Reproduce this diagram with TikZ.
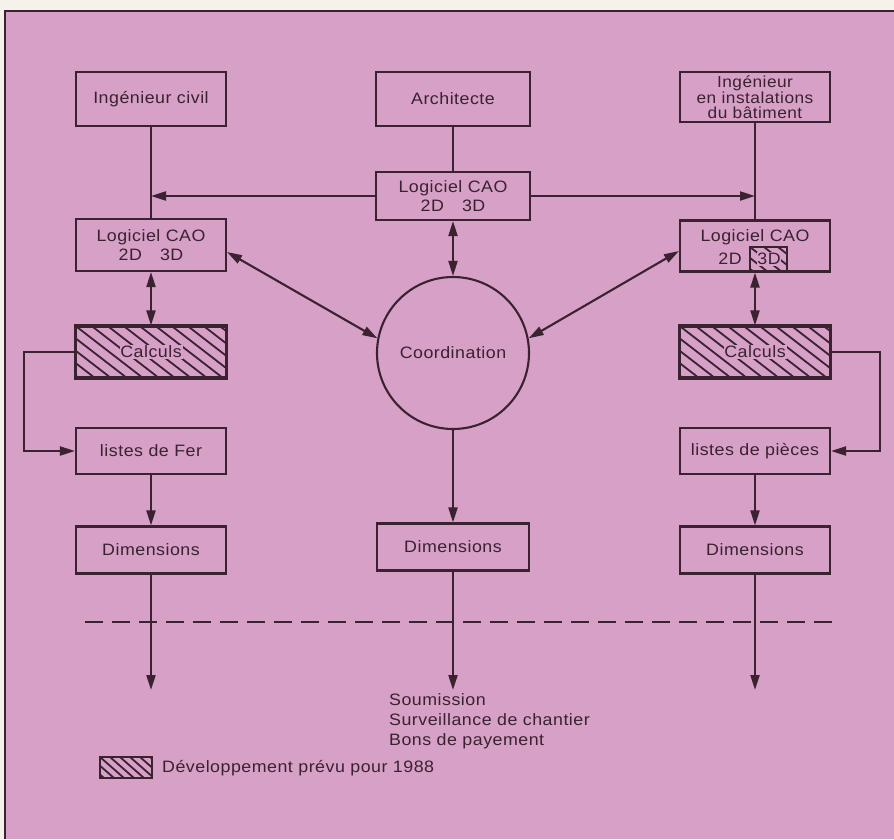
\documentclass[tikz,border=0pt]{standalone}
\usepackage{fontspec}
\setmainfont{Liberation Sans}[FakeStretch=1.08,LetterSpace=3]
\usetikzlibrary{arrows.meta}
\definecolor{pinkbg}{HTML}{D6A0C7}
\definecolor{paper}{HTML}{F4F2EA}
\definecolor{ink}{HTML}{3A2230}
\begin{document}
\begin{tikzpicture}[x=1pt,y=-1pt,
  box/.style={draw=ink, line width=2.1pt, minimum width=150pt, minimum height=50pt, inner sep=0pt, align=center, text=ink, font=\fontsize{16.5}{19}\selectfont},
  conn/.style={draw=ink, line width=2.1pt},
  arr/.style={conn, -{Triangle[length=15pt,width=9pt]}},
  darr/.style={conn, {Triangle[length=15pt,width=9pt]}-{Triangle[length=15pt,width=9pt]}},
  hatchline/.style={draw=ink, line width=1.8pt},
  lbl/.style={text=ink, font=\fontsize{16.5}{20}\selectfont, inner sep=1pt},
  clearlbl/.style={lbl, fill=pinkbg, inner sep=0.8pt},
]
\useasboundingbox (0,0) rectangle (894,839);
\fill[paper] (0,0) rectangle (894,839);
\fill[pinkbg] (5,11) rectangle (894,839);
\draw[ink, line width=1.2pt] (5,839) -- (5,11) -- (894,11);

% top row
\node[box, minimum height=54pt] (civ) at (151,99) {Ingénieur civil};
\node[box, minimum width=154pt, minimum height=54pt] (arch) at (453,99) {Architecte};
\node[box, minimum height=50pt, font=\fontsize{16}{14.5}\selectfont] (inst) at (755,97) {Ingénieur\\en instalations\\du bâtiment};

% CAO boxes
\node[box, minimum height=52pt] (logL) at (151,245) {Logiciel CAO\\2D\hspace{1.1em}3D};
\node[box, minimum width=154pt, minimum height=48pt] (logC) at (453,196) {Logiciel CAO\\2D\hspace{1.1em}3D};
\node[box, minimum height=51pt] (logR) at (755,246) {};
\node[lbl] (logRt) at (755,237) {Logiciel CAO};
\node[lbl] (logR2) at (730,259) {2D};

% hatched 3D in right CAO box
\begin{scope}
\clip (750,247) rectangle (787,272);
\foreach \i in {-4,...,3} \draw[hatchline] (750+\i*14,247) -- ++(32,25);
\end{scope}
\draw[ink, line width=1.6pt] (750,247) rectangle (787,272);
\node[clearlbl] (logR3) at (769,259) {3D};

% coordination circle
\node[draw=ink, line width=2.1pt, circle, minimum size=152pt, inner sep=0pt, lbl] (circ) at (453,353) {Coordination};

% Calculs boxes
\node[box, minimum height=51pt] (calL) at (151,352) {};
\node[box, minimum height=51pt] (calR) at (755,352) {};
\foreach \b in {calL,calR}{
  \begin{scope}
  \clip (\b.north west) rectangle (\b.south east);
  \foreach \i in {-5,...,10} \draw[hatchline] ([xshift=\i*16pt]\b.north west) -- ++(66,51);
  \end{scope}
  \draw[ink, line width=2.1pt] (\b.north west) rectangle (\b.south east);
}
\node[clearlbl] (calLt) at (calL) {Calculs};
\node[clearlbl] (calRt) at (calR) {Calculs};

% lists
\node[box, minimum height=46pt] (ferL) at (151,451) {listes de Fer};
\node[box, minimum height=46pt] (pieR) at (755,451) {listes de pièces};

% dimensions
\node[box, minimum height=47pt] (dimL) at (151,550) {Dimensions};
\node[box, minimum width=152pt, minimum height=47pt] (dimC) at (453,547) {Dimensions};
\node[box, minimum height=47pt] (dimR) at (755,550) {Dimensions};

% connectors
\draw[conn] (civ.south) -- (logL.north);
\draw[conn] (arch.south) -- (logC.north);
\draw[conn] (inst.south) -- (logR.north);
\draw[arr] (logC.west) -- (logC.west -| logL.north);
\draw[arr] (logC.east) -- (logC.east -| logR.north);
\draw[darr] (logC.south) -- (circ.north);
\draw[darr] ([yshift=-7pt]logL.east) -- (circ.169);
\draw[darr] ([yshift=-5pt]logR.west) -- (circ.11);
\draw[darr] (logL.south) -- (calL.north);
\draw[darr] (logR.south) -- (calR.north);
\draw[arr] (calL.west) -- ++(-51,0) |- (ferL.west);
\draw[arr] (calR.east) -- ++(49,0) |- (pieR.east);
\draw[arr] (ferL.south) -- (dimL.north);
\draw[arr] (pieR.south) -- (dimR.north);
\draw[arr] (circ.south) -- (dimC.north);
\coordinate (outL) at (151,690);
\coordinate (outC) at (453,690);
\coordinate (outR) at (755,690);
\draw[arr] (dimL.south) -- (outL);
\draw[arr] (dimC.south) -- (outC);
\draw[arr] (dimR.south) -- (outR);

% dashed separator
\coordinate (dashA) at (85,622);
\coordinate (dashB) at (835,622);
\draw[ink, line width=1.8pt, dash pattern=on 18pt off 9pt] (dashA) -- (dashB);

% output text
\node[lbl, anchor=north west, align=left] (out) at (388,692) {Soumission\\Surveillance de chantier\\Bons de payement};

% legend
\coordinate (legA) at (100,757);
\coordinate (legB) at (152,778);
\begin{scope}
\clip (legA) rectangle (legB);
\foreach \i in {-3,...,6} \draw[hatchline] (100+\i*10,757) -- ++(24,21);
\end{scope}
\draw[ink, line width=1.8pt] (legA) rectangle (legB);
\node[lbl, anchor=west] (leg) at (161,768) {Développement prévu pour 1988};
\end{tikzpicture}
\end{document}
